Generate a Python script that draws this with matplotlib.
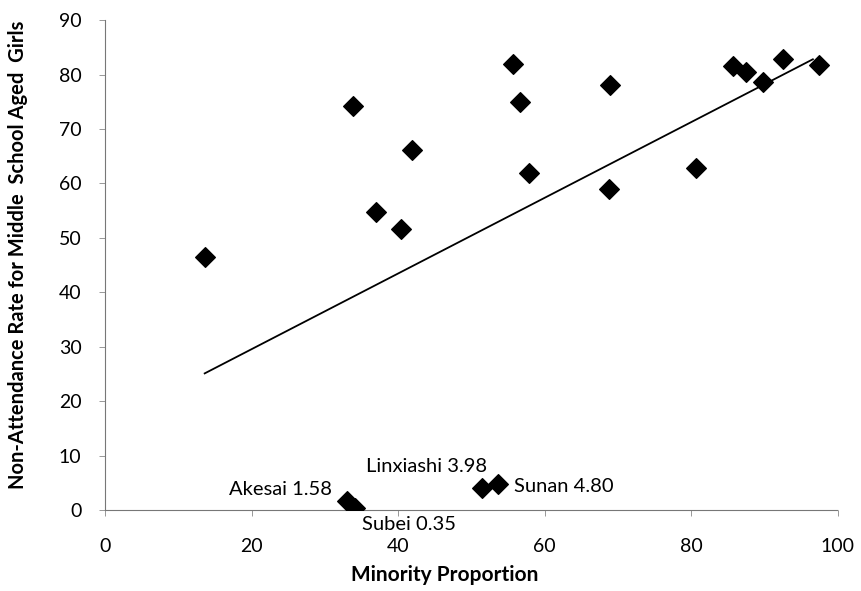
import matplotlib
matplotlib.use("Agg")
import matplotlib.pyplot as plt

# county data: minority proportion vs non-attendance rate
minority = [13.6, 33.8, 37.0, 40.4, 41.9, 55.7, 56.6, 57.8, 68.9, 68.8,
            80.6, 85.7, 87.5, 89.8, 92.5, 97.5]
nonattend = [46.4, 74.3, 54.7, 51.7, 66.2, 82.0, 75.0, 62.0, 78.0, 58.9,
             62.8, 81.5, 80.4, 78.7, 82.9, 81.8]

# labelled low outliers
out_names = ["Akesai 1.58", "Subei 0.35", "Linxiashi 3.98", "Sunan 4.80"]
out_x = [33.0, 34.1, 51.4, 53.6]
out_y = [1.58, 0.35, 3.98, 4.80]

# linear trend line end points
trend_x = [13.6, 96.6]
trend_y = [25.1, 82.8]

plt.rcParams['font.family'] = ['Lato', 'DejaVu Sans']

fig = plt.figure(figsize=(8.61, 5.91), dpi=100)
ax = fig.add_axes([0.122, 0.137, 0.851, 0.829])

ax.plot(trend_x, trend_y, color='black', lw=1.3, zorder=2)
ax.scatter(minority, nonattend, marker='D', s=100, color='black', zorder=3)
ax.scatter(out_x, out_y, marker='D', s=100, color='black', zorder=3)

# annotation offsets in points
offsets = [(-11, 8.5, 'right', 'center'),
           (5, -11.5, 'left', 'center'),
           (3.6, 16, 'right', 'center'),
           (12, -2, 'left', 'center')]
for name, x, y, (dx, dy, ha, va) in zip(out_names, out_x, out_y, offsets):
    ax.annotate(name, (x, y), xytext=(dx, dy), textcoords='offset points',
                ha=ha, va=va, fontsize=14.5)

ax.set_xlim(0, 100)
ax.set_ylim(0, 90)
ax.set_xticks(range(0, 101, 20))
ax.set_yticks(range(0, 91, 10))
ax.tick_params(labelsize=14, length=4, width=0.6, color='#888888')
ax.tick_params(axis='x', pad=16)
ax.tick_params(axis='y', pad=13)

for s in ['top', 'right']:
    ax.spines[s].set_visible(False)
for s in ['left', 'bottom']:
    ax.spines[s].set_linestyle((0, (1, 1)))
    ax.spines[s].set_color('#777777')
    ax.spines[s].set_linewidth(0.8)

ax.set_xlabel('Minority Proportion', fontsize=15, fontweight='bold', va='center')
ax.xaxis.set_label_coords(0.463, -0.133)
ax.set_ylabel('Non-Attendance Rate for Middle  School Aged  Girls',
              fontsize=14.5, fontweight='bold')
ax.yaxis.set_label_coords(-0.105, 0.52)

fig.savefig('out.png', dpi=100)
